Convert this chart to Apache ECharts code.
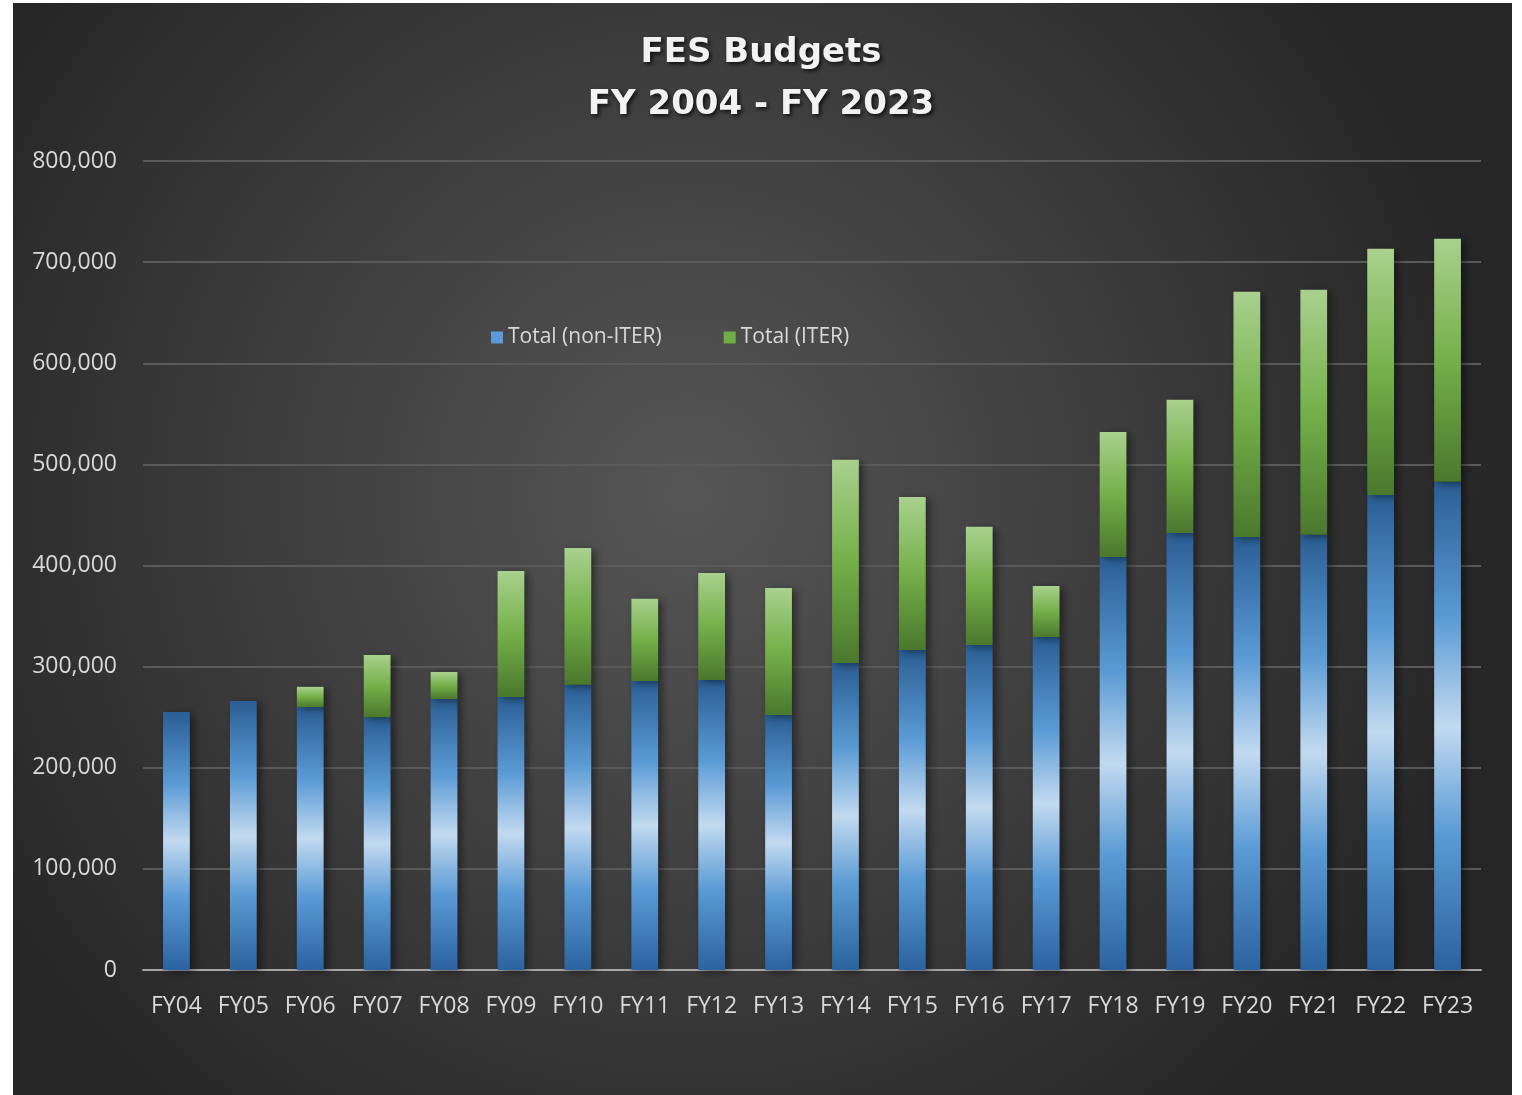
<!DOCTYPE html>
<html>
<head>
<meta charset="utf-8">
<script src="https://cdn.jsdelivr.net/npm/echarts@6/dist/echarts.min.js"></script>
<style>
  html, body { margin: 0; padding: 0; background: #fff; }
  #main { width: 1522px; height: 1095px; }
</style>
</head>
<body>
<div id="main"></div>
<script>
const years = ["FY04", "FY05", "FY06", "FY07", "FY08", "FY09", "FY10", "FY11", "FY12", "FY13",
  "FY14", "FY15", "FY16", "FY17", "FY18", "FY19", "FY20", "FY21", "FY22", "FY23"];

// Total (non-ITER)
const nonIter = [255200, 266000, 260000, 250000, 268000, 270000, 282000, 285900, 286800, 252200,
  303700, 316500, 321500, 329400, 408500, 432200, 428300, 430300, 469800, 482700];

// Total (ITER), stacked on top
const iter = [0, 0, 20000, 61500, 26700, 124600, 135400, 81100, 105900, 125600,
  200800, 151300, 116700, 50400, 123600, 131600, 242300, 242300, 243400, 240300];

const FONT = "'Open Sans', 'Noto Sans', sans-serif";

const blueFill = new echarts.graphic.LinearGradient(0, 0, 0, 1, [
  { offset: 0, color: "#2a5e94" },
  { offset: 0.28, color: "#5b9bd5" },
  { offset: 0.5, color: "#c2daf0" },
  { offset: 0.72, color: "#5b9bd5" },
  { offset: 1, color: "#2b63a0" }
]);
const greenFill = new echarts.graphic.LinearGradient(0, 0, 0, 1, [
  { offset: 0, color: "#a9d18e" },
  { offset: 0.5, color: "#74b049" },
  { offset: 1, color: "#4a782d" }
]);

const chart = echarts.init(document.getElementById("main"));
chart.setOption({
  backgroundColor: "#ffffff",
  animation: false,
  graphic: [{
    type: "rect",
    z: -10,
    silent: true,
    shape: { x: 13, y: 3, width: 1499, height: 1092 },
    style: {
      fill: new echarts.graphic.RadialGradient(0.45, 0.45, 0.75, [
        { offset: 0, color: "#565656" },
        { offset: 1, color: "#262626" }
      ])
    }
  }],
  title: {
    text: "FES Budgets\nFY 2004 - FY 2023",
    left: "center",
    top: 22,
    textStyle: {
      color: "#f2f2f2",
      fontFamily: "'DejaVu Sans', sans-serif",
      fontWeight: "bold",
      fontSize: 34,
      lineHeight: 52,
      textShadowColor: "rgba(0,0,0,0.8)",
      textShadowBlur: 4,
      textShadowOffsetX: 2,
      textShadowOffsetY: 2
    }
  },
  legend: {
    top: 322,
    left: 486,
    itemGap: 62,
    itemWidth: 12,
    itemHeight: 12,
    icon: "rect",
    textStyle: { color: "#d9d9d9", fontFamily: FONT, fontSize: 21 },
    data: [
      { name: "Total (non-ITER)", itemStyle: { color: "#5b9bd5", shadowBlur: 0 } },
      { name: "Total (ITER)", itemStyle: { color: "#70ad47", shadowBlur: 0 } }
    ]
  },
  grid: { left: 143, right: 41, top: 161, bottom: 125 },
  xAxis: {
    type: "category",
    data: years,
    axisTick: { show: false },
    axisLine: { lineStyle: { color: "#a6a6a6", width: 2 } },
    axisLabel: { color: "#d9d9d9", fontFamily: FONT, fontSize: 23, margin: 25 }
  },
  yAxis: {
    type: "value",
    min: 0,
    max: 800000,
    interval: 100000,
    axisLine: { show: false },
    axisTick: { show: false },
    splitLine: { lineStyle: { color: "#5a5a5a", width: 2 } },
    axisLabel: {
      color: "#d9d9d9",
      fontFamily: FONT,
      fontSize: 23,
      margin: 26,
      formatter: v => v.toLocaleString("en-US")
    }
  },
  series: [
    {
      name: "Total (non-ITER)",
      type: "bar",
      stack: "total",
      barWidth: "40%",
      data: nonIter,
      itemStyle: {
        color: blueFill,
        shadowColor: "rgba(0,0,0,0.45)",
        shadowBlur: 8,
        shadowOffsetX: 4,
        shadowOffsetY: 2
      }
    },
    {
      name: "Total (ITER)",
      type: "bar",
      stack: "total",
      barWidth: "40%",
      data: iter.map(v => (v === 0 ? null : v)),
      itemStyle: {
        color: greenFill,
        shadowColor: "rgba(0,0,0,0.45)",
        shadowBlur: 8,
        shadowOffsetX: 4,
        shadowOffsetY: 2
      }
    }
  ]
});
</script>
</body>
</html>
